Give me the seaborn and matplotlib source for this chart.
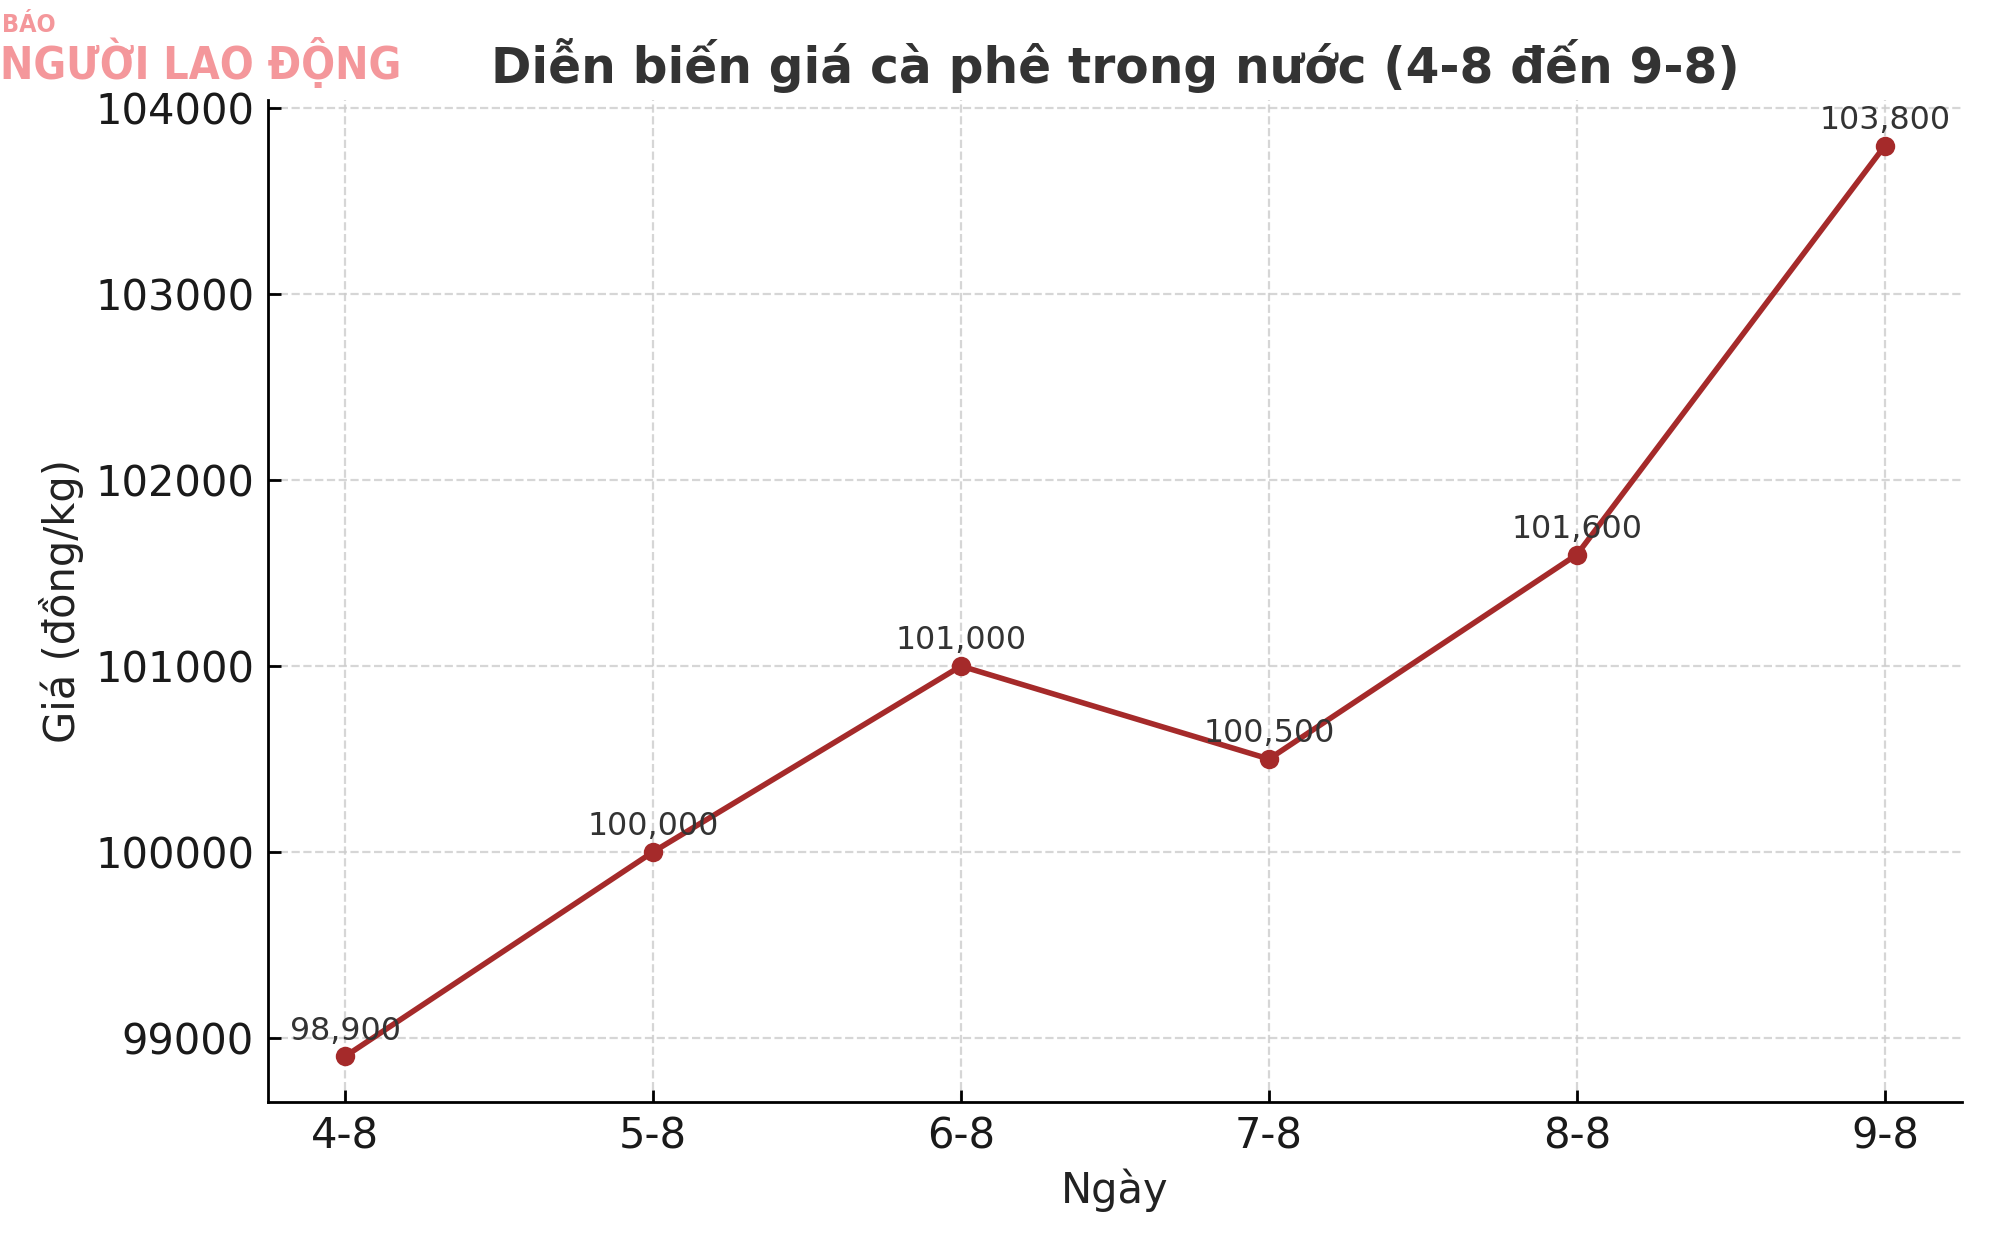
import matplotlib
matplotlib.use("Agg")
import matplotlib.pyplot as plt
import seaborn as sns
import pandas as pd

dates = ["4-8", "5-8", "6-8", "7-8", "8-8", "9-8"]
prices = [98900, 100000, 101000, 100500, 101600, 103800]
title = "Diễn biến giá cà phê trong nước (4-8 đến 9-8)"
xlabel = "Ngày"
ylabel = "Giá (đồng/kg)"

df = pd.DataFrame({"date": dates, "price": prices})

sns.set_style("ticks")
plt.rcParams["font.family"] = ["DejaVu Sans"]

fig = plt.figure(figsize=(10, 6.25), dpi=200)
ax = fig.add_axes([0.134, 0.1184, 0.847, 0.8016])

line_color = "#A52A2A"
sns.lineplot(data=df, x="date", y="price", ax=ax, sort=False, color=line_color,
             linewidth=2, marker="o", markersize=7, markeredgewidth=0)

for d, p in zip(dates, prices):
    ax.annotate(f"{p:,}", xy=(d, p), xytext=(0, 3.5), textcoords="offset points",
                ha="center", va="bottom", fontsize=11.4, color="#333333")

ax.grid(True, linestyle="--", color="#cccccc", alpha=0.8, linewidth=0.8)
ax.set_axisbelow(True)
sns.despine(ax=ax)
for s in ["left", "bottom"]:
    ax.spines[s].set_color("black")
    ax.spines[s].set_linewidth(1.0)
ax.tick_params(axis="both", labelsize=15, colors="black", length=4.5, width=1.0,
               labelcolor="#1a1a1a", direction="in", pad=5)

ax.set_title(title, fontsize=17.5, fontweight="bold", color="#333333")
ax.set_xlabel(xlabel, fontsize=15, color="#222222")
ax.set_ylabel(ylabel, fontsize=15, color="#222222")

fig.text(0.001, 0.99, "BÁO", fontsize=9, color="#F4979B", ha="left", va="top",
         family="DejaVu Sans", fontweight="bold", fontstretch="condensed")
fig.text(0.0, 0.97, "NGƯỜI LAO ĐỘNG", fontsize=16, color="#F4979B", ha="left", va="top",
         family="DejaVu Sans", fontweight="bold", fontstretch="condensed")

fig.savefig("out.png", dpi=200)
